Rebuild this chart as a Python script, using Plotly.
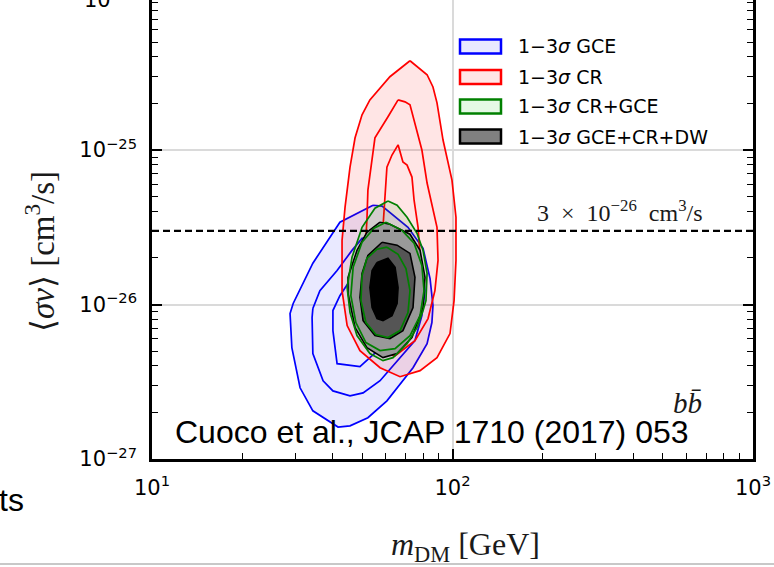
import plotly.graph_objects as go

# ---------------------------------------------------------------------------
# Contour data: dark-matter mass m_DM [GeV] and <sigma v> in units of 1e-26 cm^3/s
# ---------------------------------------------------------------------------
SV_UNIT = 1e-26
THERMAL_XSEC = 3e-26  # canonical thermal relic cross section

# Galactic Centre Excess (GCE) 1-3 sigma
gce_3s_m = [54.4, 58.3, 71.1, 79.8, 84.2, 86.1, 85.4, 82.3, 73.9, 66.9, 60.5, 52.3,
            45.6, 41.6, 34.3, 31.1, 29.2, 28.8, 29.5, 34.3, 40.0, 42.2]
gce_3s_sv = [4.39, 4.33, 3.16, 2.31, 1.47, 0.985, 0.764, 0.558, 0.390, 0.307, 0.238, 0.185,
             0.164, 0.161, 0.205, 0.289, 0.526, 0.874, 1.015, 1.85, 2.93, 3.41]
gce_2s_m = [34.3, 36.2, 41.3, 46.3, 50.0, 59.6, 72.2, 79.1, 81.0, 79.1, 75.0, 65.4,
            57.4, 50.4, 45.6, 40.0, 37.1, 34.3, 34.1]
gce_2s_sv = [0.942, 1.23, 1.66, 2.24, 2.68, 2.85, 2.42, 1.79, 1.23, 0.848, 0.584, 0.433,
             0.321, 0.268, 0.256, 0.276, 0.321, 0.481, 0.823]
gce_1s_m = [53.1, 49.2, 41.3, 40.0, 40.0, 42.2, 46.3, 51.2, 57.4, 62.9, 64.4, 61.9, 57.4]
gce_1s_sv = [0.453, 0.396, 0.414, 0.678, 0.914, 1.14, 1.50, 1.79, 1.87, 1.54, 1.06, 0.678, 0.518]

# Cosmic-ray antiprotons (CR) 1-3 sigma
cr_3s_m = [72.2, 82.3, 86.1, 88.8, 93.0, 99.6, 102.7, 102.7, 101.2, 98.1, 88.8, 78.0,
           66.9, 57.4, 49.2, 44.6, 42.9, 42.9, 43.9, 45.6, 47.4, 50.0, 53.1, 61.9]
cr_3s_sv = [37.8, 30.7, 25.6, 20.2, 11.6, 6.39, 3.67, 1.93, 1.06, 0.648, 0.453, 0.373,
            0.341, 0.390, 0.503, 0.731, 1.23, 2.60, 4.27, 7.75, 12.0, 16.9, 21.1, 29.8]
cr_2s_m = [65.9, 69.5, 72.2, 76.2, 79.1, 82.3, 88.8, 89.5, 87.4, 82.9, 75.0, 64.4,
           56.5, 51.5, 50.0, 51.2, 51.9, 52.3, 54.0, 55.2, 61.0]
cr_2s_sv = [21.1, 20.5, 19.6, 12.9, 10.0, 6.11, 3.16, 1.93, 1.23, 0.811, 0.584, 0.466,
            0.488, 0.629, 1.06, 2.24, 3.51, 5.50, 8.61, 12.0, 16.4]
cr_1s_m = [65.9, 68.4, 70.6, 73.3, 74.5, 76.8, 78.0, 76.8, 72.2, 65.4, 60.1, 57.8,
           58.7, 59.6, 60.5, 62.9]
cr_1s_sv = [10.8, 8.36, 7.99, 6.68, 4.73, 3.16, 2.08, 1.43, 1.09, 0.985, 1.09, 1.54,
            3.16, 5.50, 7.75, 9.28]

# Combined CR + GCE 1-3 sigma
crg_3s_m = [61.0, 65.4, 70.6, 76.2, 79.8, 82.3, 81.6, 79.8, 76.2, 70.6, 63.4, 58.7,
            53.1, 48.1, 45.6, 44.6, 46.3, 50.0, 55.2]
crg_3s_sv = [4.67, 4.39, 3.67, 2.89, 2.24, 1.59, 1.06, 0.914, 0.709, 0.558, 0.453, 0.433,
             0.481, 0.629, 0.887, 1.29, 2.02, 3.16, 4.20]
crg_2s_m = [60.1, 67.9, 74.5, 79.1, 80.4, 78.0, 72.2, 64.4, 57.4, 51.5, 47.7, 45.9,
            46.7, 50.0, 54.8]
crg_2s_sv = [3.41, 3.02, 2.49, 1.79, 1.23, 0.848, 0.629, 0.518, 0.503, 0.567, 0.764, 1.14,
             1.74, 2.53, 3.12]
crg_1s_m = [60.5, 65.9, 70.0, 72.2, 71.1, 66.9, 61.0, 55.6, 51.5, 49.6, 50.0, 51.9, 56.1]
crg_1s_sv = [2.35, 2.11, 1.71, 1.23, 0.887, 0.678, 0.611, 0.639, 0.764, 1.06, 1.54, 1.99, 2.28]

# Combined GCE + CR + dwarf spheroidals (DW) 1-3 sigma
all_3s_m = [57.4, 61.9, 72.2, 78.0, 81.0, 79.8, 73.3, 65.4, 58.7, 51.9, 47.4, 44.9,
            44.9, 48.1, 51.9]
all_3s_sv = [3.41, 3.31, 2.85, 2.24, 1.50, 0.956, 0.611, 0.481, 0.453, 0.526, 0.709, 1.18,
             1.50, 2.24, 2.93]
all_2s_m = [58.3, 65.4, 72.2, 75.0, 73.9, 68.4, 61.9, 55.2, 50.4, 49.2, 50.0, 52.3]
all_2s_sv = [2.53, 2.42, 2.14, 1.50, 0.956, 0.678, 0.602, 0.629, 0.787, 1.11, 1.59, 2.08]
all_1s_m = [56.1, 61.0, 64.4, 65.9, 65.4, 62.9, 58.7, 56.1, 54.0, 53.1, 54.0]
all_1s_sv = [1.87, 1.99, 1.74, 1.29, 1.015, 0.848, 0.787, 0.811, 0.956, 1.29, 1.66]

legend_labels = ["1−3<i>σ</i> GCE", "1−3<i>σ</i> CR", "1−3<i>σ</i> CR+GCE",
                 "1−3<i>σ</i> GCE+CR+DW"]

x_tickvals = [10, 100, 1000]
x_ticktext = ["10<sup>1</sup>", "10<sup>2</sup>", "10<sup>3</sup>"]
y_tickvals = [1e-27, 1e-26, 1e-25]
y_ticktext = ["10<sup>−27</sup>", "10<sup>−26</sup>", "10<sup>−25</sup>"]

# ---------------------------------------------------------------------------
W, H = 774, 567
PL, PR, PT, PB = 152, 753, 0, 459   # plot-area edges in pixels
DECADE_PX = 154.5                   # pixels per decade on the y axis


def px(x):
    return (x - PL) / (PR - PL)


def py(y):
    return (PB - y) / (PB - PT)


fig = go.Figure()


def closed(m, sv):
    xs = list(m) + [m[0]]
    ys = [v * SV_UNIT for v in sv] + [sv[0] * SV_UNIT]
    return xs, ys


def region(m, sv, fillcolor):
    xs, ys = closed(m, sv)
    fig.add_trace(go.Scatter(x=xs, y=ys, mode="lines", fill="toself",
                             fillcolor=fillcolor, line=dict(width=0),
                             hoverinfo="skip", showlegend=False))


def outline(m, sv, color, width=1.7, fillcolor=None):
    xs, ys = closed(m, sv)
    fig.add_trace(go.Scatter(x=xs, y=ys, mode="lines",
                             fill="toself" if fillcolor else "none",
                             fillcolor=fillcolor,
                             line=dict(color=color, width=width),
                             hoverinfo="skip", showlegend=False))


BLUE, RED, GREEN = "#0000ff", "#ff0000", "#008000"

# GCE
region(gce_3s_m, gce_3s_sv, "rgba(0,0,255,0.085)")
for m, sv in [(gce_3s_m, gce_3s_sv), (gce_2s_m, gce_2s_sv), (gce_1s_m, gce_1s_sv)]:
    outline(m, sv, BLUE)

# CR
region(cr_3s_m, cr_3s_sv, "rgba(255,0,0,0.10)")
for m, sv in [(cr_3s_m, cr_3s_sv), (cr_2s_m, cr_2s_sv), (cr_1s_m, cr_1s_sv)]:
    outline(m, sv, RED)

# CR + GCE fill
region(crg_3s_m, crg_3s_sv, "rgba(0,160,0,0.10)")

# GCE + CR + DW filled bands
outline(all_3s_m, all_3s_sv, "black", 1.6, "#999999")
outline(all_2s_m, all_2s_sv, "black", 1.6, "#555555")
outline(all_1s_m, all_1s_sv, "black", 1.6, "#000000")

# CR + GCE outlines on top
for m, sv in [(crg_3s_m, crg_3s_sv), (crg_2s_m, crg_2s_sv), (crg_1s_m, crg_1s_sv)]:
    outline(m, sv, GREEN)

# thermal relic cross section
fig.add_trace(go.Scatter(x=[10, 1000], y=[THERMAL_XSEC, THERMAL_XSEC], mode="lines",
                         line=dict(color="black", width=2.3, dash="7px,4px"),
                         hoverinfo="skip", showlegend=False))

TICKFONT = dict(family="DejaVu Sans", size=21, color="black")
SERIF = "Liberation Serif"

axis_common = dict(
    type="log", showline=True, linecolor="black", linewidth=2.5,
    ticks="inside", ticklen=10, tickwidth=1.5, tickcolor="black",
    tickmode="array", tickfont=TICKFONT,
    showgrid=True, gridcolor="#dadada", gridwidth=2, zeroline=False,
    minor=dict(ticks="inside", ticklen=6, tickwidth=1, tickcolor="black",
               dtick="D1", showgrid=False),
)

fig.update_layout(
    width=W, height=H, autosize=False,
    margin=dict(l=PL, r=W - PR, t=PT, b=H - PB, pad=0),
    paper_bgcolor="white", plot_bgcolor="white",
    xaxis=dict(axis_common, range=[1, 3], tickvals=x_tickvals, ticktext=x_ticktext,
               mirror=False, ticklabelstandoff=8),
    yaxis=dict(axis_common, range=[-27, -27 + (PB - PT) / DECADE_PX],
               tickvals=y_tickvals, ticktext=y_ticktext, mirror="ticks",
               ticklabelstandoff=8),
    showlegend=False,
)


def note(x, y, text, font, xanchor="center", **kw):
    return dict(x=px(x), y=py(y), xref="paper", yref="paper", xanchor=xanchor,
                yanchor="middle", text=text, showarrow=False, font=font, **kw)


NB = "\u00a0"
ann = []
# axis titles
ann.append(note(465, 546, "<i>m</i><sub>DM</sub>" + NB + "[GeV]",
                dict(family=SERIF, size=32, color="#1a1a1a")))
ann.append(note(40, 252, "⟨<i>σv</i>⟩" + NB + "[cm<sup>3</sup>/s]",
                dict(family=SERIF, size=33, color="#1a1a1a"), textangle=-90))
# top tick label partly above the frame
ann.append(note(144, PB - 3 * DECADE_PX + 2, "10<sup>−24</sup>", TICKFONT, xanchor="right"))
# thermal cross section label
ann.append(note(620, 211,
                "3" + NB * 2 + "×" + NB * 2 + "10<sup>−26</sup>" + NB * 2 + "cm<sup>3</sup>/s",
                dict(family=SERIF, size=24, color="#1a1a1a")))
# final state
ann.append(note(687, 403, "<i>b</i><i>b̄</i>",
                dict(family=SERIF, size=29, color="#1a1a1a")))
# reference
ann.append(note(173, 432, "Cuoco et al., JCAP 1710 (2017) 053",
                dict(family="Liberation Sans", size=32, color="black"), xanchor="left"))
ann.append(note(-3, 500, "ts",
                dict(family="Liberation Sans", size=32, color="black"), xanchor="left"))

# legend
shapes = []
leg_fill = ["rgba(0,0,255,0.085)", "rgba(255,0,0,0.10)", "rgba(0,200,0,0.10)", "#808080"]
leg_edge = [BLUE, RED, GREEN, "black"]
leg_y = [46.5, 77, 106.5, 136.5]
for lab, fc, ec, yc in zip(legend_labels, leg_fill, leg_edge, leg_y):
    shapes.append(dict(type="rect", xref="paper", yref="paper",
                       x0=px(460), x1=px(501), y0=py(yc - 7), y1=py(yc + 7),
                       fillcolor=fc, line=dict(color=ec, width=2.5)))
    ann.append(note(516, yc, lab, dict(family="DejaVu Sans", size=19, color="black"),
                    xanchor="left"))

# slide border line at the very bottom
shapes.append(dict(type="line", xref="paper", yref="paper",
                   x0=px(0), x1=px(W), y0=py(564), y1=py(564),
                   line=dict(color="#c8c8c8", width=2)))

fig.update_layout(annotations=ann, shapes=shapes)
fig.write_html("out.html")
